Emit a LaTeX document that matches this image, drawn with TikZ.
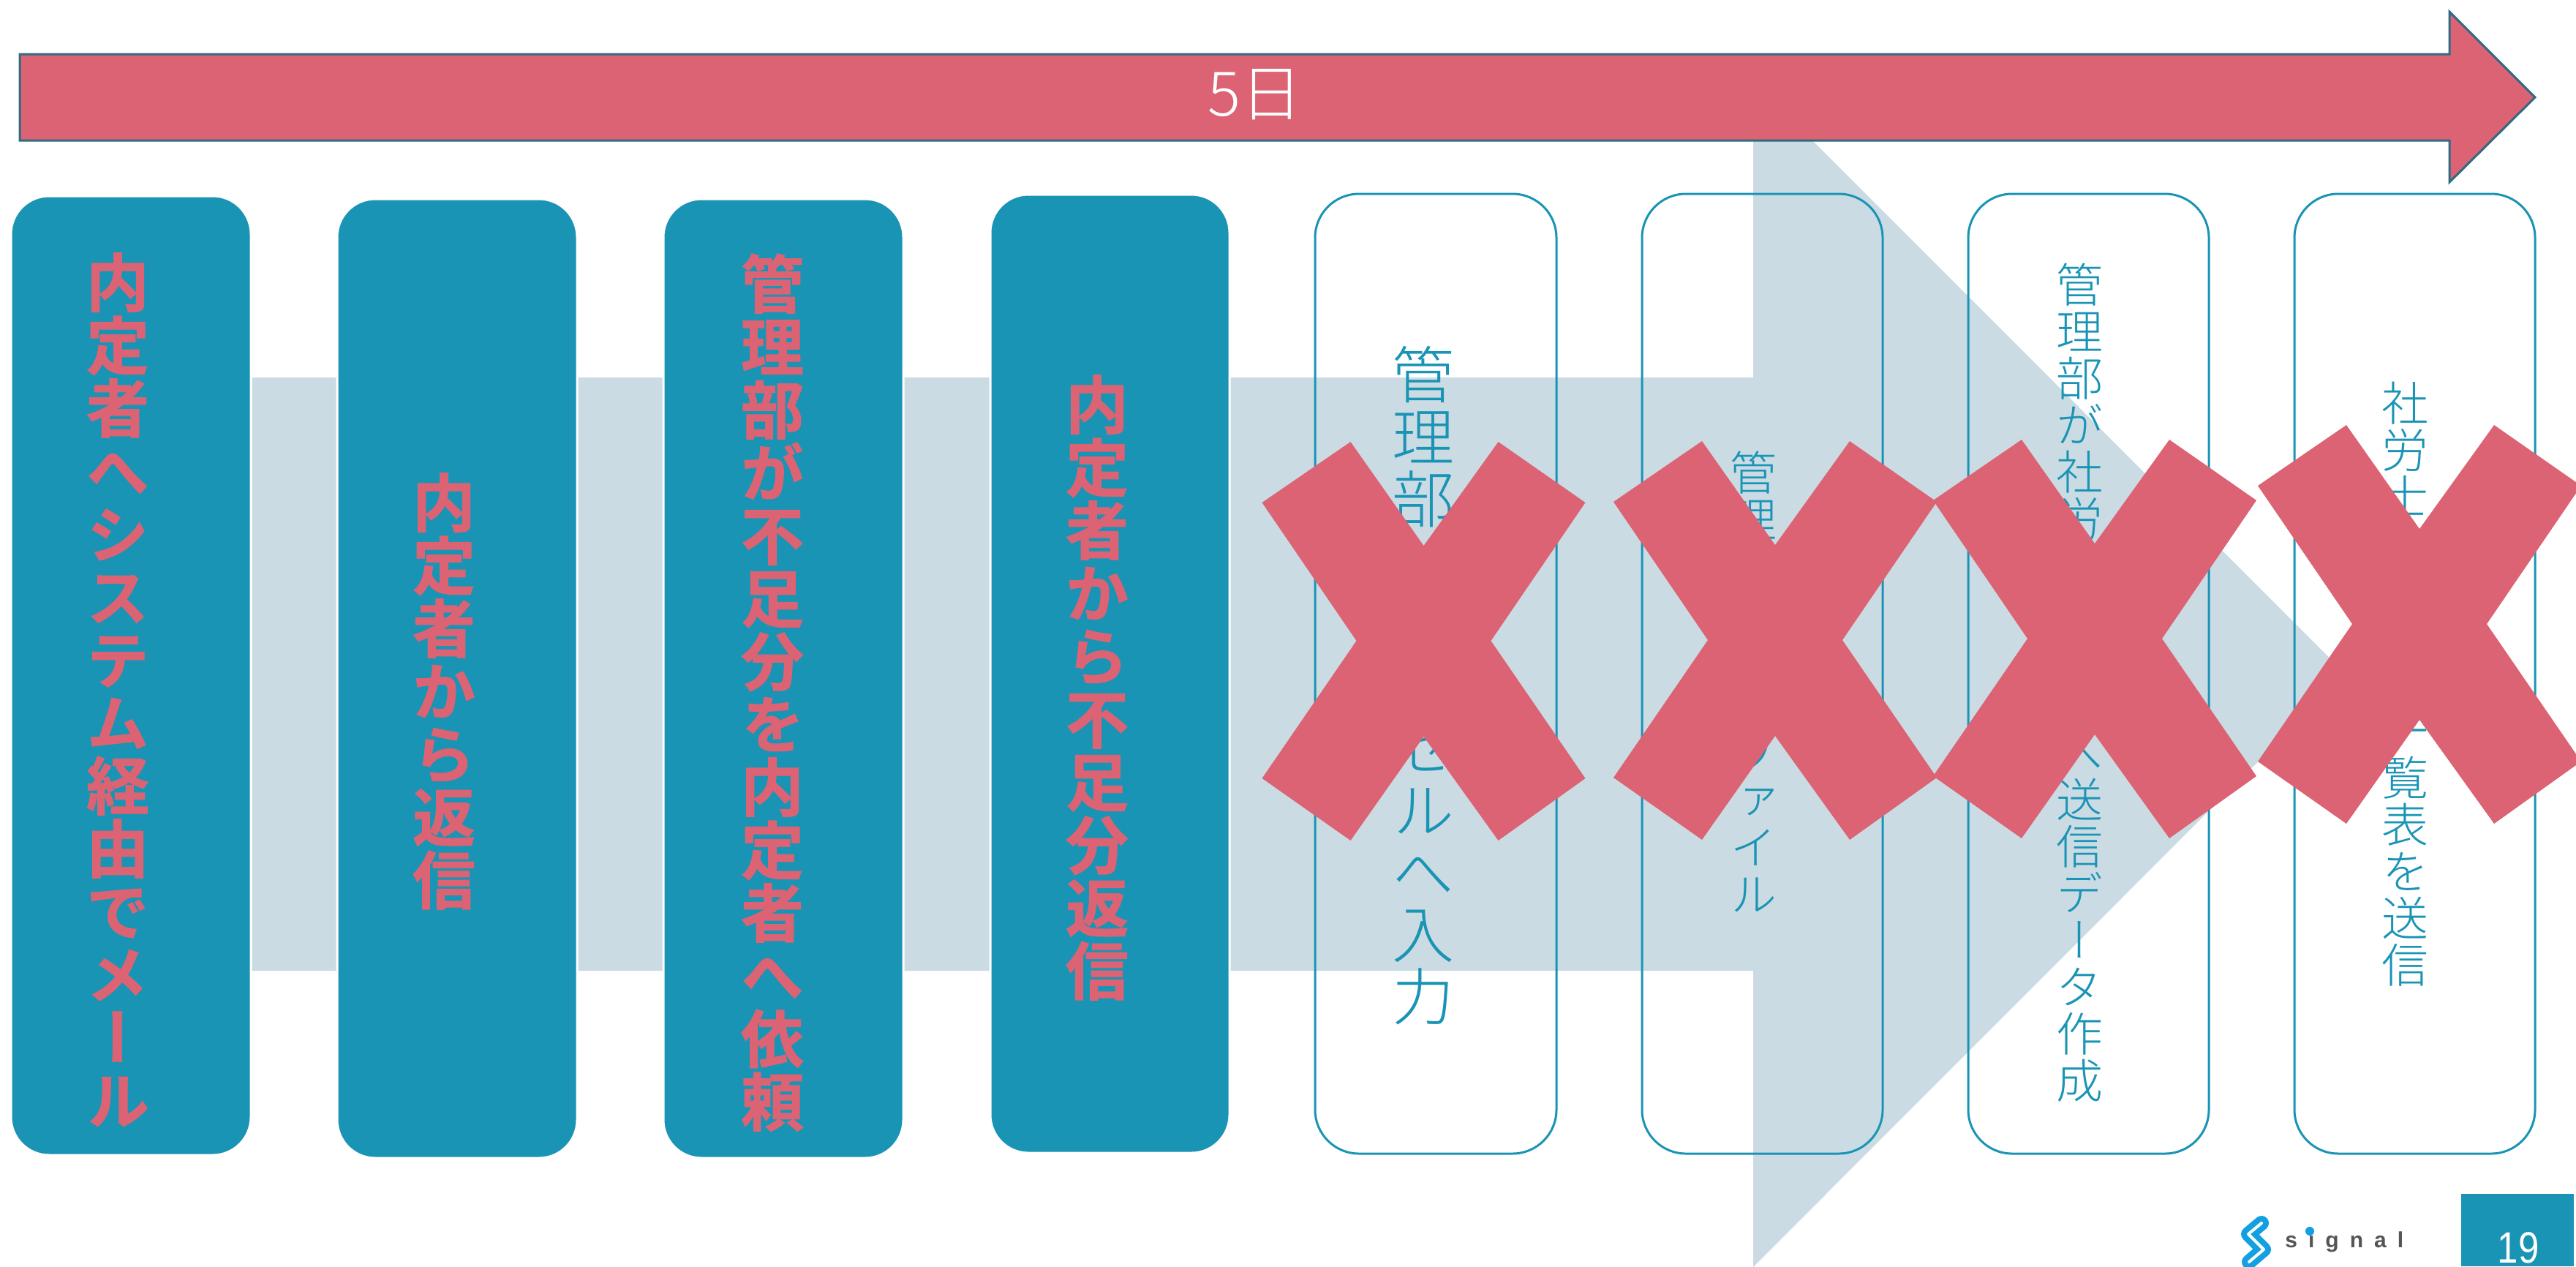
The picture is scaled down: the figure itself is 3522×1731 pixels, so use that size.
\documentclass[tikz,border=0pt]{standalone}
\usepackage{fontspec}
\newfontfamily\tateR[RawFeature={+vert}]{Noto Sans CJK JP Light}
\newfontfamily\tateB[RawFeature={+vert},FakeBold=1.2]{Noto Sans CJK JP Bold}
\newfontfamily\yoko{Noto Sans CJK JP Light}
\setmainfont{Liberation Sans}
\definecolor{redc}{HTML}{DC6373}
\definecolor{teal2}{HTML}{1A94B5}
\definecolor{grayc}{HTML}{CBDBE3}
\definecolor{edgec}{HTML}{2F6B82}
\definecolor{logob}{HTML}{12A0E3}
\definecolor{logog}{HTML}{555555}
\makeatletter
\newcommand{\tate}[1]{\vbox{\offinterlineskip\@tfor\tatechar:=#1\do{\hbox to 1em{\vrule height .88em depth .12em width 0pt\hss\tatechar\hss}}}}
\makeatother
\tikzset{
  fillbox/.style={fill=teal2,draw=white,line width=1.5pt,rounded corners=26pt},
  linebox/.style={draw=teal2,line width=1.5pt,rounded corners=30pt},
  tatebold/.style={inner sep=0pt,text=redc,font=\tateB\fontsize{43pt}{43pt}\selectfont},
  tatebig/.style={inner sep=0pt,text=teal2,font=\tateR\fontsize{42.5pt}{43pt}\selectfont},
  tatesmall/.style={inner sep=0pt,text=teal2,font=\tateR\fontsize{32pt}{32pt}\selectfont},
  redx/.style={fill=redc,draw=none}
}
\newcommand{\bigX}[2]{%
  \fill[redx,shift={(#1,#2)}] (-221,-189) -- (-100,-272) -- (0,-130) -- (102,-272) -- (221,-189)
    -- (92,0) -- (221,188) -- (102,273) -- (0,131) -- (-100,273) -- (-221,188) -- (-92,0) -- cycle;}
\begin{document}
\begin{tikzpicture}[x=.5pt,y=-.5pt]
\useasboundingbox (0,0) rectangle (3522,1731);
\fill[white] (0,0) rectangle (3522,1731);
% large background arrow
\begin{scope}
\clip (0,0) rectangle (3522,1731);
\fill[grayc] (342,516) -- (2397,516) -- (2397,111) -- (3207,921.5) -- (2397,1732) -- (2397,1327) -- (342,1327) -- cycle;
\end{scope}
% filled boxes
\draw[fillbox] (15,268) rectangle (343,1579);
\draw[fillbox] (461,272) rectangle (789,1583);
\draw[fillbox] (907,272) rectangle (1235,1583);
\draw[fillbox] (1354,266) rectangle (1681,1576);
% outlined boxes
\draw[linebox] (1798,265) rectangle (2128,1577);
\draw[linebox] (2245,265) rectangle (2574,1577);
\draw[linebox] (2691,265) rectangle (3020,1577);
\draw[linebox] (3137,265) rectangle (3466,1577);
% texts
\node[tatebold] (t1) at (161,945) {\tate{内定者へシステム経由でメール}};
\node[tatebold] (t2) at (607,945) {\tate{内定者から返信}};
\node[tatebold] (t3) at (1056,947) {\tate{管理部が不足分を内定者へ依頼}};
\node[tatebold] (t4) at (1500,940) {\tate{内定者から不足分返信}};
\node[tatebig] (t5) at (1946,937) {\tate{管理部がエクセルへ入力}};
\node[tatesmall] (t6) at (2397,934) {\tate{管理部が入力ファイル}};
\node[tatesmall] (t7) at (2843,933) {\tate{管理部が社労士事務所へ送信データ作成}};
\node[tatesmall] (t8) at (3288,935) {\tate{社労士へ従業員一覧表を送信}};
% crosses
\bigX{1946.5}{876}
\bigX{2427}{875}
\bigX{2864}{873}
\bigX{3308}{853}
% top arrow
\draw[fill=redc,draw=edgec,line width=1.5pt] (27,74) -- (3349,74) -- (3349,16) -- (3466,133) -- (3349,249) -- (3349,192) -- (27,192) -- cycle;
\node[text=white,inner sep=0pt,font=\yoko\fontsize{42pt}{42pt}\selectfont] (days) at (1716,129) {5日};
% page number
\fill[teal2] (3365,1632) rectangle (3519,1731);
\node[text=white,inner sep=0pt,font=\fontsize{30pt}{30pt}\selectfont,xscale=.85] (page) at (3443,1706) {19};
% logo
\draw[logob,line width=10pt,line join=round,line cap=round] (3092,1672) -- (3074,1687) -- (3095,1708) -- (3075,1725);
\draw[white,line width=2pt,line join=round,line cap=round] (3092,1672) -- (3074,1687) -- (3095,1708) -- (3075,1725);
\node[text=logog,inner sep=0pt,anchor=base west,font=\addfontfeature{LetterSpace=50}\bfseries\fontsize{15pt}{15pt}\selectfont] (logo) at (3124,1705) {signal};
\fill[logob] (3158,1683) circle (3pt);
\end{tikzpicture}
\end{document}
